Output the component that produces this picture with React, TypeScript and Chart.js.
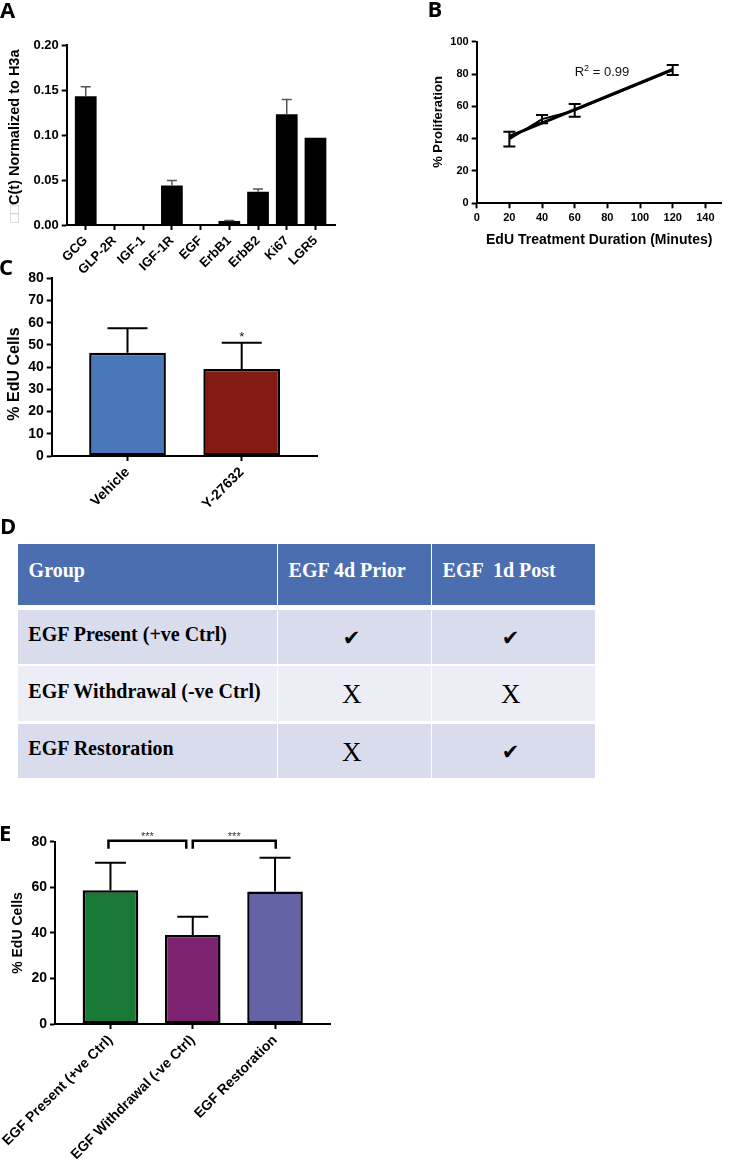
import React, { useEffect, useRef } from 'react';
import { Chart, registerables } from 'chart.js';

Chart.register(...registerables);

const SANS = "'Liberation Sans', Arial, Helvetica, sans-serif";
const SERIF = "'Liberation Serif', 'Times New Roman', serif";
const LETTER = "'Open Sans', 'Liberation Sans', sans-serif";

Chart.defaults.font.family = SANS;
Chart.defaults.color = '#000';

// ---------- Panel A ----------
const geneLabels = ['GCG', 'GLP-2R', 'IGF-1', 'IGF-1R', 'EGF', 'ErbB1', 'ErbB2', 'Ki67', 'LGR5'];
const geneExpression = [0.143, 0, 0, 0.044, 0, 0.0045, 0.037, 0.123, 0.097];
const geneError = [0.0105, 0, 0, 0.0055, 0, 0.0006, 0.003, 0.0165, 0];
const geneAxisTitle = ['\u25A1\u25A1', 'C(t) Normalized to H3a'];

// ---------- Panel B ----------
const eduMinutes = [20, 40, 60, 120];
const proliferation = [39.7, 52.1, 57.5, 82.5];
const proliferationErr = [4.6, 2.6, 3.9, 3.1];
const fitMinutes = [20, 120];
const fitProliferation = [41.4, 82.8];
const r2Value = '0.99';
const r2Anchor = [60, 79];

// ---------- Panel C ----------
const treatmentLabels = ['Vehicle', 'Y-27632'];
const treatmentEdu = [46.5, 39.2];
const treatmentErr = [11.0, 11.8];
const treatmentColors = ['#4a77b9', '#831a13'];
const treatmentStars = ['', '*'];

// ---------- Panel D ----------
const tableHeader = ['Group', 'EGF 4d Prior', 'EGF  1d Post'];
const tableGroups = ['EGF Present (+ve Ctrl)', 'EGF Withdrawal (-ve Ctrl)', 'EGF Restoration'];
const egfPrior = [true, false, false];
const egfPost = [true, false, true];

// ---------- Panel E ----------
const groupLabels = ['EGF Present (+ve Ctrl)', 'EGF Withdrawal (-ve Ctrl)', 'EGF Restoration'];
const groupEdu = [58.7, 39.1, 58.1];
const groupErr = [12.1, 8.0, 14.9];
const groupColors = ['#187a36', '#7e2372', '#6363a6'];
const comparisons: [number, number, string][] = [[0, 1, '***'], [1, 2, '***']];

// ---------- helpers ----------
function axis(fontSize: number, tickExtra: any = {}) {
  return {
    border: { display: true, color: '#000', width: 2 },
    grid: {
      display: true, drawOnChartArea: false, drawTicks: true, tickLength: 5,
      tickWidth: 2, tickColor: '#000', offset: false, color: '#000',
    },
    ticks: { color: '#000', font: { family: SANS, size: fontSize, weight: 'bold' }, padding: 3, ...tickExtra },
  };
}

const fixHeight = (h: number) => (s: any) => {
  s.height = h;
  s.paddingLeft = 0;
  s.paddingRight = 0;
};
const fixWidth = (w: number) => (s: any) => {
  s.width = w;
  s.paddingTop = 0;
  s.paddingBottom = 0;
};

function errorBars(xs: number[], means: number[], errs: number[], o: { color: string; width: number; cap: number; both?: boolean }) {
  return {
    id: 'errorBars',
    afterDatasetsDraw(chart: any) {
      const { ctx } = chart;
      const { x, y } = chart.scales;
      ctx.save();
      ctx.strokeStyle = o.color;
      ctx.lineWidth = o.width;
      means.forEach((m, i) => {
        const e = errs[i];
        if (!e) return;
        const px = x.getPixelForValue(xs[i]);
        const top = y.getPixelForValue(m + e);
        const bottom = y.getPixelForValue(o.both ? m - e : m);
        ctx.beginPath();
        ctx.moveTo(px, bottom);
        ctx.lineTo(px, top);
        ctx.moveTo(px - o.cap / 2, top);
        ctx.lineTo(px + o.cap / 2, top);
        if (o.both) {
          ctx.moveTo(px - o.cap / 2, bottom);
          ctx.lineTo(px + o.cap / 2, bottom);
        }
        ctx.stroke();
      });
      ctx.restore();
    },
  };
}

function vTitle(cx: number, cy: number, size: number, parts: { text: string; color: string }[]) {
  return {
    id: 'vTitle',
    afterDraw(chart: any) {
      const ctx = chart.ctx;
      ctx.save();
      ctx.font = `bold ${size}px ${SANS}`;
      ctx.translate(cx, cy);
      ctx.rotate(-Math.PI / 2);
      const total = parts.reduce((s, p) => s + ctx.measureText(p.text).width, 0);
      let x = -total / 2;
      ctx.textBaseline = 'middle';
      ctx.textAlign = 'left';
      parts.forEach((p) => {
        ctx.fillStyle = p.color;
        ctx.fillText(p.text, x, 0);
        x += ctx.measureText(p.text).width;
      });
      ctx.restore();
    },
  };
}

const baseOptions = (padding: any) => ({
  responsive: false,
  maintainAspectRatio: false,
  animation: false,
  events: [],
  layout: { padding },
  plugins: { legend: { display: false }, tooltip: { enabled: false }, title: { display: false } },
});

// ---------- chart builders ----------
const buildA = () => ({
  type: 'bar',
  data: {
    datasets: [{
      data: geneLabels.map((_, i) => ({ x: i, y: geneExpression[i] })),
      backgroundColor: '#000', borderWidth: 0, barPercentage: 0.757, categoryPercentage: 1,
    }],
  },
  options: {
    ...baseOptions({ top: 45, right: 45, bottom: 0, left: 0 }),
    scales: {
      x: {
        type: 'linear', min: -0.663, max: 8.68, offset: false, bounds: 'data',
        ...axis(13, { autoSkip: false, minRotation: 45, maxRotation: 45, callback: (v: number) => geneLabels[v] ?? '' }),
        afterBuildTicks: (s: any) => { s.ticks = geneLabels.map((_, i) => ({ value: i })); },
        afterFit: fixHeight(60),
      },
      y: {
        type: 'linear', min: 0, max: 0.2,
        ...axis(13, { stepSize: 0.05, callback: (v: number) => Number(v).toFixed(2) }),
        afterFit: fixWidth(66.7),
      },
    },
  },
  plugins: [
    errorBars(geneLabels.map((_, i) => i), geneExpression, geneError, { color: '#555', width: 1.5, cap: 10 }),
    vTitle(15, 136, 14.5, [{ text: geneAxisTitle[0], color: '#c4c4c4' }, { text: geneAxisTitle[1], color: '#000' }]),
  ],
});

const buildB = () => ({
  type: 'line',
  data: {
    datasets: [
      {
        data: eduMinutes.map((m, i) => ({ x: m, y: proliferation[i] })),
        borderColor: '#000', borderWidth: 2, pointRadius: 0, fill: false, tension: 0,
      },
      {
        data: fitMinutes.map((m, i) => ({ x: m, y: fitProliferation[i] })),
        borderColor: '#000', borderWidth: 3, pointRadius: 0, fill: false, tension: 0,
      },
    ],
  },
  options: {
    ...baseOptions({ top: 41.7, right: 28.3, bottom: 0, left: 0 }),
    scales: {
      x: {
        type: 'linear', min: 0, max: 150,
        ...axis(11, { stepSize: 20, includeBounds: false }),
        title: {
          display: true, text: 'EdU Treatment Duration (Minutes)', color: '#000',
          font: { family: SANS, size: 14, weight: 'bold' }, padding: { top: 0, bottom: 6.6 },
        },
        afterFit: fixHeight(51.7),
      },
      y: {
        type: 'linear', min: 0, max: 100,
        ...axis(11, { stepSize: 20 }),
        afterFit: fixWidth(96.7),
      },
    },
  },
  plugins: [
    errorBars(eduMinutes, proliferation, proliferationErr, { color: '#000', width: 2, cap: 12, both: true }),
    vTitle(58, 122, 13, [{ text: '% Proliferation', color: '#000' }]),
    {
      id: 'r2',
      afterDraw(chart: any) {
        const { ctx } = chart;
        const { x, y } = chart.scales;
        let px = x.getPixelForValue(r2Anchor[0]);
        const py = y.getPixelForValue(r2Anchor[1]);
        ctx.save();
        ctx.fillStyle = '#111';
        ctx.textBaseline = 'alphabetic';
        ctx.textAlign = 'left';
        ctx.font = `13px ${SANS}`;
        ctx.fillText('R', px, py);
        px += ctx.measureText('R').width;
        ctx.font = `9px ${SANS}`;
        ctx.fillText('2', px, py - 5);
        px += ctx.measureText('2').width;
        ctx.font = `13px ${SANS}`;
        ctx.fillText(' = ' + r2Value, px, py);
        ctx.restore();
      },
    },
  ],
});

const buildC = () => ({
  type: 'bar',
  data: {
    datasets: [{
      data: treatmentLabels.map((_, i) => ({ x: i, y: treatmentEdu[i] })),
      backgroundColor: treatmentColors, borderColor: '#000', borderWidth: 2.5, borderSkipped: false,
      barPercentage: 0.672, categoryPercentage: 1,
    }],
  },
  options: {
    ...baseOptions({ top: 10.3, right: 12.5, bottom: 0, left: 0 }),
    scales: {
      x: {
        type: 'linear', min: -0.664, max: 1.664, offset: false, bounds: 'data',
        ...axis(14, { autoSkip: false, minRotation: 45, maxRotation: 45, callback: (v: number) => treatmentLabels[v] ?? '' }),
        afterBuildTicks: (s: any) => { s.ticks = treatmentLabels.map((_, i) => ({ value: i })); },
        afterFit: fixHeight(52),
      },
      y: {
        type: 'linear', min: 0, max: 80,
        ...axis(14, { stepSize: 10 }),
        afterFit: fixWidth(51.7),
      },
    },
  },
  plugins: [
    errorBars(treatmentLabels.map((_, i) => i), treatmentEdu, treatmentErr, { color: '#000', width: 2, cap: 40 }),
    vTitle(15, 106, 16, [{ text: '% EdU Cells', color: '#000' }]),
    {
      id: 'stars',
      afterDraw(chart: any) {
        const { ctx } = chart;
        const { x, y } = chart.scales;
        ctx.save();
        ctx.font = `13px ${SANS}`;
        ctx.fillStyle = '#111';
        ctx.textAlign = 'center';
        ctx.textBaseline = 'alphabetic';
        treatmentStars.forEach((s, i) => {
          if (!s) return;
          ctx.fillText(s, x.getPixelForValue(i), y.getPixelForValue(treatmentEdu[i] + treatmentErr[i]) - 2);
        });
        ctx.restore();
      },
    },
  ],
});

const buildE = () => ({
  type: 'bar',
  data: {
    datasets: [{
      data: groupLabels.map((_, i) => ({ x: i, y: groupEdu[i] })),
      backgroundColor: groupColors, borderColor: '#000', borderWidth: 2.5, borderSkipped: false,
      barPercentage: 0.676, categoryPercentage: 1,
    }],
  },
  options: {
    ...baseOptions({ top: 41.7, right: 15, bottom: 0, left: 0 }),
    scales: {
      x: {
        type: 'linear', min: -0.674, max: 2.668, offset: false, bounds: 'data',
        ...axis(14, { autoSkip: false, minRotation: 45, maxRotation: 45, callback: (v: number) => groupLabels[v] ?? '' }),
        afterBuildTicks: (s: any) => { s.ticks = groupLabels.map((_, i) => ({ value: i })); },
        afterFit: fixHeight(141),
      },
      y: {
        type: 'linear', min: 0, max: 80,
        ...axis(14, { stepSize: 20 }),
        afterFit: fixWidth(55),
      },
    },
  },
  plugins: [
    errorBars(groupLabels.map((_, i) => i), groupEdu, groupErr, { color: '#000', width: 2, cap: 31 }),
    vTitle(18, 133, 14, [{ text: '% EdU Cells', color: '#000' }]),
    {
      id: 'brackets',
      afterDraw(chart: any) {
        const { ctx } = chart;
        const { x, y } = chart.scales;
        const by = y.getPixelForValue(80) - 1;
        ctx.save();
        ctx.strokeStyle = '#000';
        ctx.lineWidth = 2.5;
        comparisons.forEach(([a, b, label], k) => {
          const xa = x.getPixelForValue(a) + (k > 0 ? 0 : -2);
          const xb = x.getPixelForValue(b) + (k < comparisons.length - 1 ? -6.5 : 0.7);
          ctx.beginPath();
          ctx.moveTo(xa, by + 8);
          ctx.lineTo(xa, by);
          ctx.lineTo(xb, by);
          ctx.lineTo(xb, by + 8);
          ctx.stroke();
          ctx.font = `11px ${SANS}`;
          ctx.fillStyle = '#333';
          ctx.textAlign = 'center';
          ctx.textBaseline = 'alphabetic';
          ctx.fillText(label, (xa + xb) / 2, by - 1);
        });
        ctx.restore();
      },
    },
  ],
});

// ---------- components ----------
function ChartCanvas({ left, top, width, height, build }: any) {
  const ref = useRef<HTMLCanvasElement>(null);
  useEffect(() => {
    const chart = new Chart(ref.current as HTMLCanvasElement, build());
    return () => chart.destroy();
  }, []);
  return (
    <canvas
      ref={ref}
      width={width}
      height={height}
      style={{ position: 'absolute', left, top, width, height, display: 'block' }}
    />
  );
}

function Letter({ ch, left, baseline }: { ch: string; left: number; baseline: number }) {
  return (
    <div
      style={{
        position: 'absolute', left, top: baseline - 19.5, fontFamily: LETTER, fontWeight: 700,
        fontSize: 22, lineHeight: '22px', color: '#000',
      }}
    >
      {ch}
    </div>
  );
}

const colBounds = [[18.3, 276.7], [278.3, 431], [432.3, 595]];
const rowBounds = [[544, 605.3], [610, 664], [666, 721], [724, 778]];
const rowFill = ['#4a6eb0', '#d9dcec', '#edeef5', '#d9dcec'];
const textTops = [560, 624.3, 681, 737.6];

function Table() {
  const cells: any[] = [];
  rowBounds.forEach(([t, b], r) => {
    colBounds.forEach(([l, rr], c) => {
      cells.push(
        <div
          key={`bg-${r}-${c}`}
          style={{ position: 'absolute', left: l, top: t, width: rr - l, height: b - t, background: rowFill[r] }}
        />
      );
    });
  });
  const textStyle = (color: string) => ({
    position: 'absolute' as const, fontFamily: SERIF, fontWeight: 700, fontSize: 20, lineHeight: '20px',
    color, whiteSpace: 'pre' as const,
  });
  tableHeader.forEach((h, c) => {
    cells.push(
      <div key={`h-${c}`} style={{ ...textStyle('#fff'), left: colBounds[c][0] + 10.3, top: textTops[0] }}>{h}</div>
    );
  });
  tableGroups.forEach((g, r) => {
    cells.push(
      <div key={`g-${r}`} style={{ ...textStyle('#000'), left: colBounds[0][0] + 10, top: textTops[r + 1] }}>{g}</div>
    );
    [egfPrior[r], egfPost[r]].forEach((yes, k) => {
      const [l, rr] = colBounds[k + 1];
      const cx = (l + rr) / 2 - 3;
      const cy = (rowBounds[r + 1][0] + rowBounds[r + 1][1]) / 2 + 1;
      cells.push(
        <div
          key={`m-${r}-${k}`}
          style={{
            position: 'absolute', left: cx - 20, top: cy - 15, width: 40, height: 30,
            display: 'flex', alignItems: 'center', justifyContent: 'center', color: '#000',
            fontFamily: yes ? "'DejaVu Sans', sans-serif" : SERIF,
            fontWeight: 400, fontSize: yes ? 21 : 27, lineHeight: 1,
          }}
        >
          {yes ? '\u2714' : 'X'}
        </div>
      );
    });
  });
  return <>{cells}</>;
}

export default function App() {
  return (
    <div style={{ position: 'absolute', left: 0, top: 0, width: 750, height: 1165, background: '#fff', overflow: 'hidden' }}>
      <ChartCanvas left={0} top={0} width={380} height={285} build={buildA} />
      <ChartCanvas left={380} top={0} width={370} height={255} build={buildB} />
      <ChartCanvas left={0} top={268} width={330} height={240} build={buildC} />
      <ChartCanvas left={0} top={800} width={345} height={365} build={buildE} />
      <Table />
      <Letter ch="A" left={0} baseline={17} />
      <Letter ch="B" left={427.5} baseline={16.7} />
      <Letter ch="C" left={-1} baseline={274.3} />
      <Letter ch="D" left={0} baseline={533} />
      <Letter ch="E" left={-1} baseline={840} />
    </div>
  );
}
